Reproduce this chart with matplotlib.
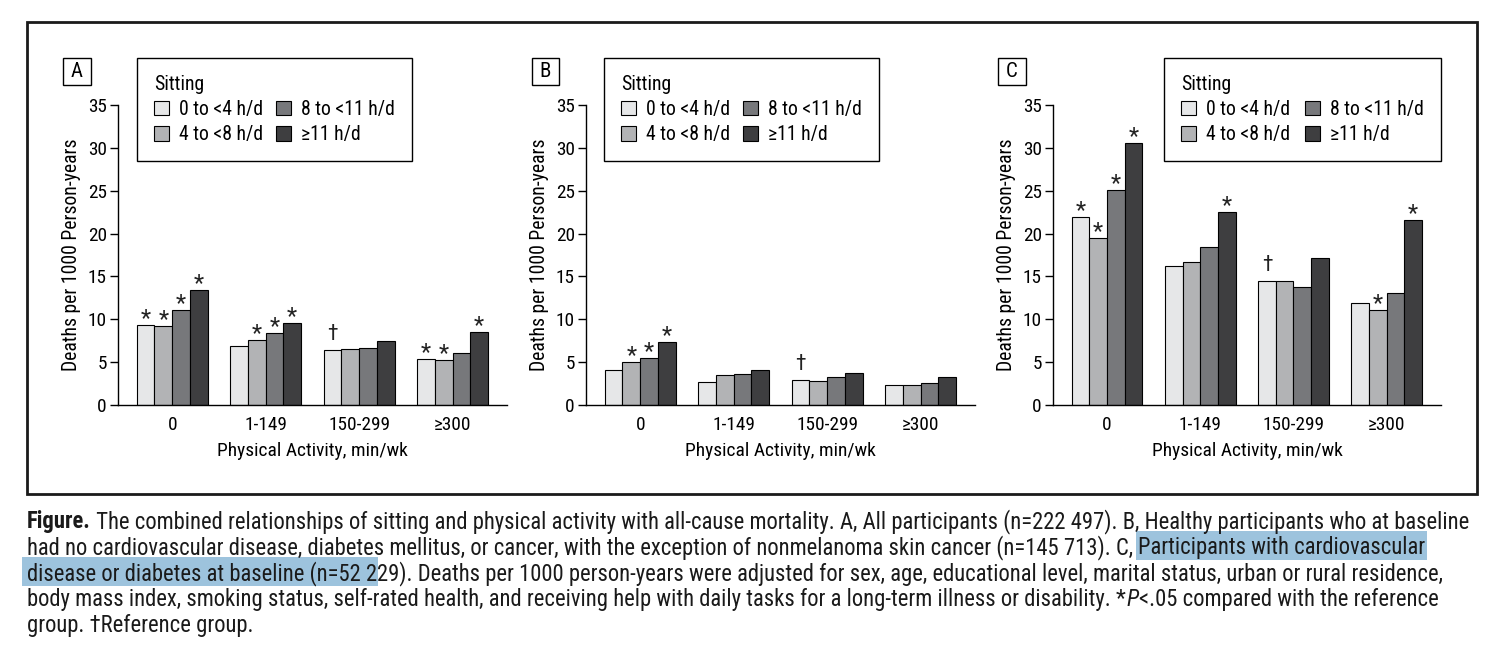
import matplotlib
matplotlib.use("Agg")
import matplotlib.pyplot as plt
from matplotlib import font_manager as fm
from matplotlib.patches import Rectangle, Patch
import numpy as np

# ---------- pick the closest available condensed sans font ----------
entries = [(f.name, f.stretch) for f in fm.fontManager.ttflist]
names = {n for n, _ in entries}
family, stretch = 'Liberation Sans', 'normal'
picked = False
for cand in ['Liberation Sans Narrow', 'Roboto Condensed', 'Open Sans Condensed',
             'Noto Sans Condensed', 'DejaVu Sans Condensed']:
    if cand in names:
        family, picked = cand, True
        break
if not picked:
    for cand in ['Roboto', 'Noto Sans', 'Open Sans', 'DejaVu Sans', 'Liberation Sans']:
        if any(n == cand and s in ('condensed', 'semi-condensed') for n, s in entries):
            family, stretch, picked = cand, 'condensed', True
            break
plt.rcParams['font.family'] = [family, 'DejaVu Sans']
plt.rcParams['font.stretch'] = stretch

# ---------------- data ----------------
activity = ['0', '1-149', '150-299', '≥300']
sitting = ['0 to <4 h/d', '4 to <8 h/d', '8 to <11 h/d', '≥11 h/d']
bar_colors = ['#E6E7E8', '#B2B3B5', '#77787B', '#3E3E40']

# values per sitting category, across activity groups
panel_a = [[9.3, 6.85, 6.4, 5.35],
           [9.2, 7.55, 6.5, 5.2],
           [11.05, 8.35, 6.6, 6.05],
           [13.4, 9.55, 7.45, 8.5]]
panel_b = [[4.05, 2.65, 2.9, 2.3],
           [5.0, 3.45, 2.75, 2.3],
           [5.45, 3.6, 3.25, 2.55],
           [7.3, 4.05, 3.7, 3.25]]
panel_c = [[21.9, 16.2, 14.45, 11.85],
           [19.5, 16.65, 14.45, 11.05],
           [25.05, 18.4, 13.75, 13.05],
           [30.55, 22.5, 17.1, 21.55]]

marks_a = [['*', '', '†', '*'],
           ['*', '*', '', '*'],
           ['*', '*', '', ''],
           ['*', '*', '', '*']]
marks_b = [['', '', '†', ''],
           ['*', '', '', ''],
           ['*', '', '', ''],
           ['*', '', '', '']]
marks_c = [['*', '', '†', ''],
           ['*', '', '', '*'],
           ['*', '', '', ''],
           ['*', '*', '', '*']]

panel_letters = ['A', 'B', 'C']
y_label = 'Deaths per 1000 Person-years'
x_label = 'Physical Activity, min/wk'
legend_title = 'Sitting'

# ---------------- layout ----------------
W, H = 1500, 645
fig = plt.figure(figsize=(W / 100, H / 100), dpi=100)
fig.canvas.draw()
renderer = fig.canvas.get_renderer()

def fx(px):
    return px / W

def fy(py):
    return 1 - py / H

def measure(s, size, **kw):
    t = fig.text(0, 0, s, fontsize=size, **kw)
    w = t.get_window_extent(renderer).width
    t.remove()
    return w

def fit(s, target, base=14.0, lo=10.0, hi=17.0):
    return float(np.clip(base * target / measure(s, base), lo, hi))

ylab_size = fit(y_label, 234)
xlab_size = fit(x_label, 191)
tick_size = fit('150-299', 62)
leg_size = fit('8 to <11 h/d', 94)

axes_left = [118, 586, 1053]
axes_width = [389, 389, 388]
ax_top, ax_bot = 105, 405
legend_box = [(137, 412), (604, 879), (1164, 1441)]
letter_box = [(63, 91), (532, 559), (998, 1026)]

bw = 0.19
x = np.arange(len(activity))

panels = [(panel_a, marks_a), (panel_b, marks_b), (panel_c, marks_c)]
for k, (vals, marks) in enumerate(panels):
    L = axes_left[k]
    ax = fig.add_axes([fx(L), fy(ax_bot), axes_width[k] / W, (ax_bot - ax_top) / H])
    for i in range(len(sitting)):
        xs = x + (i - 1.5) * bw
        ax.bar(xs, vals[i], width=bw, color=bar_colors[i], edgecolor='black',
               linewidth=0.8, label=sitting[i], zorder=2)
        for j in range(len(activity)):
            m = marks[i][j]
            if m == '*':
                ax.annotate('*', (xs[j], vals[i][j]), xytext=(0, 0),
                            textcoords='offset points', ha='center', va='baseline',
                            fontsize=17, color='#222222')
            elif m == '†':
                ax.annotate('†', (xs[j], vals[i][j]), xytext=(0, 7.5),
                            textcoords='offset points', ha='center', va='baseline',
                            fontsize=15.5, color='#222222')
    ax.set_xlim(-0.58, 3.583)
    ax.set_ylim(0, 35)
    ax.set_yticks(np.arange(0, 36, 5))
    ax.set_xticks(x)
    ax.set_xticklabels(activity)
    ax.tick_params(axis='x', length=0, pad=8, labelsize=tick_size)
    ax.tick_params(axis='y', length=6, width=1, pad=2, labelsize=tick_size, direction='out')
    for s in ['top', 'right']:
        ax.spines[s].set_visible(False)
    for s in ['left', 'bottom']:
        ax.spines[s].set_linewidth(1)
    ax.set_ylabel(y_label, fontsize=ylab_size, labelpad=5)
    ax.set_xlabel(x_label, fontsize=xlab_size, labelpad=6)

    lx0, lx1 = legend_box[k]
    axw = axes_width[k]
    bbox = ((lx0 - L) / axw, 0, (lx1 - lx0) / axw, (ax_bot - 58) / (ax_bot - ax_top))
    handles = [Patch(facecolor=c, edgecolor='black', linewidth=0.8) for c in bar_colors]
    leg = ax.legend(handles, sitting, ncol=2, loc='upper left', bbox_to_anchor=bbox,
                    mode='expand', borderaxespad=0, fontsize=leg_size, title=legend_title,
                    title_fontsize=leg_size, alignment='left', frameon=True, fancybox=False,
                    edgecolor='black', framealpha=1, handlelength=0.75,
                    handleheight=0.75, handletextpad=0.55, labelspacing=0.32,
                    borderpad=0.85, columnspacing=1.0)
    leg.get_frame().set_linewidth(1.0)

    bx0, bx1 = letter_box[k]
    fig.add_artist(Rectangle((fx(bx0), fy(85)), fx(bx1 - bx0), (85 - 58) / H,
                             transform=fig.transFigure, fill=False, edgecolor='black',
                             linewidth=1.0))
    fig.text(fx((bx0 + bx1) / 2), fy(71.5), panel_letters[k], ha='center', va='center',
             fontsize=15)

# outer frame
fig.add_artist(Rectangle((fx(27), fy(494)), fx(1477 - 27), (494 - 22) / H,
                         transform=fig.transFigure, fill=False, edgecolor='#1a1a1a',
                         linewidth=2))

# ---------------- caption ----------------
hl_color = '#9DC3DD'
caption = [
    [('Figure.', 'bold', False),
     (' The combined relationships of sitting and physical activity with all-cause mortality. '
      'A, All participants (n=222 497). B, Healthy participants who at baseline', 'normal', False)],
    [('had no cardiovascular disease, diabetes mellitus, or cancer, with the exception of '
      'nonmelanoma skin cancer (n=145 713). C,', 'normal', False),
     ('SPACE', 'normal', False),
     ('Participants with cardiovascular', 'normal', True)],
    [('disease or diabetes at baseline (n=52 2', 'normal', True),
     ('29). Deaths per 1000 person-years were adjusted for sex, age, educational level, '
      'marital status, urban or rural residence,', 'normal', False)],
    [('body mass index, smoking status, self-rated health, and receiving help with daily tasks '
      'for a long-term illness or disability. *', 'normal', False),
     ('P', 'italic', False),
     ('<.05 compared with the reference', 'normal', False)],
    [('group. †Reference group.', 'normal', False)],
]
baselines = [528, 554, 580, 606, 632]

def style_kw(style):
    if style == 'bold':
        return {'fontweight': 'bold'}
    if style == 'italic':
        return {'fontstyle': 'italic'}
    return {}

base = 15.0
line1_w = sum(measure(s, base, **style_kw(st)) for s, st, _ in caption[0])
cap_size = float(np.clip(base * 1445 / line1_w, 11, 18))
space_w = measure('a a', cap_size) - measure('aa', cap_size)

for li, (line, bl) in enumerate(zip(caption, baselines)):
    xp = 27.0
    for s, style, hl in line:
        if s == 'SPACE':
            xp += space_w
            continue
        t = fig.text(fx(xp), fy(bl), s, fontsize=cap_size, va='baseline', ha='left',
                     color='#1a1a1a', zorder=3, **style_kw(style))
        w = t.get_window_extent(renderer).width
        if hl:
            x0 = xp - (5 if li == 2 else 2)
            fig.add_artist(Rectangle((fx(x0), fy(bl + 6)), fx(xp + w + 1 - x0), 29 / H,
                                     transform=fig.transFigure, facecolor=hl_color,
                                     edgecolor='none', zorder=1))
        xp += w
        if s.endswith('. *'):
            xp += 1

fig.savefig('out.png', dpi=100)
